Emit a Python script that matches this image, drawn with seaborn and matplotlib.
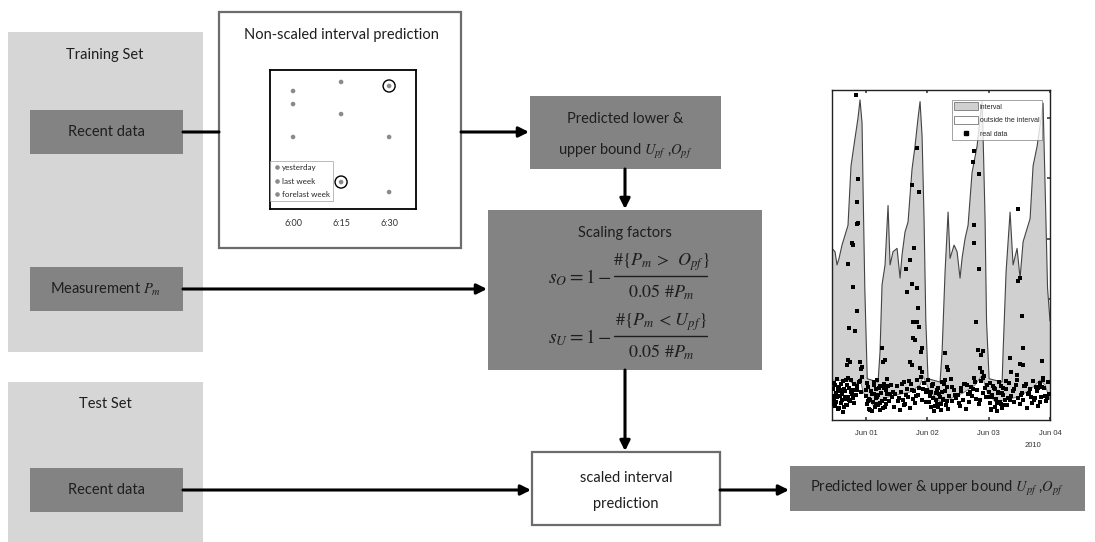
"""Interval prediction workflow diagram with inset charts."""

import matplotlib
matplotlib.use("Agg")
import matplotlib.pyplot as plt
from matplotlib.lines import Line2D
from matplotlib.patches import Patch, Rectangle
import numpy as np
import pandas as pd
import seaborn as sns

# ---- inset: non-scaled interval prediction -------------------------------
slot_labels = ["6:00", "6:15", "6:30"]
yesterday = [75.5, 68.3, 51.8]
last_week = [84.9, 91.4, 88.5]
forelast_week = [51.8, 19.4, 12.2]
circled = [("6:15", "forelast week"), ("6:30", "last week")]

# ---- right chart: interval vs real data (x in days from Jun 01) ----------
date_labels = ["Jun 01", "Jun 02", "Jun 03", "Jun 04"]
year_label = "2010"

upper_day = [-0.555, -0.506, -0.473, -0.44, -0.392, -0.343, -0.294, -0.245, -0.179,
             -0.131, -0.098, -0.065, -0.049, -0.02, 0.02, 0.196, 0.228, 0.261, 0.31,
             0.359, 0.392, 0.44, 0.506, 0.555, 0.587, 0.636, 0.685, 0.75, 0.799, 0.848,
             0.881, 0.914, 0.946, 0.975, 1.011, 1.207, 1.24, 1.289, 1.338, 1.37, 1.436,
             1.485, 1.533, 1.566, 1.615, 1.664, 1.729, 1.811, 1.86, 1.892, 1.909, 1.941,
             1.965, 2.007, 2.219, 2.235, 2.284, 2.349, 2.398, 2.463, 2.512, 2.561, 2.626,
             2.675, 2.724, 2.79, 2.855, 2.887, 2.92, 2.96, 3.0]
upper_val = [52, 51, 47, 49, 53, 56, 59, 77, 85.5, 91.5, 97, 90, 71, 40, 12.5, 11.5, 20.6,
             41, 47, 65, 47, 51, 52, 43, 50, 57, 60, 76, 83, 91.5, 96.5, 86, 61, 30, 12.5,
             11.5, 20.6, 45, 63, 49, 53, 51, 43, 49, 55, 59, 75, 83, 91.5, 96.5, 86, 61, 30,
             12.5, 11.5, 20.6, 45, 63, 47, 52, 43, 54, 58, 61, 77, 83, 91.5, 96, 71, 40, 30]

lower_day = [-0.555, -0.261, -0.179, -0.098, -0.049, 0.114, 0.228, 0.31, 0.506, 0.718,
             0.881, 0.93, 1.044, 1.207, 1.37, 1.582, 1.778, 1.892, 1.974, 2.104, 2.268,
             2.48, 2.675, 2.838, 2.92, 3.0]
lower_val = [12.1, 11.8, 10.3, 12.7, 8.5, 4.5, 4.5, 6.7, 7.6, 8.5, 10.6, 13.3, 8.5, 5.5,
             6.4, 8.2, 10.6, 13.6, 8.5, 5.5, 6.1, 7.0, 9.1, 12.1, 10.6, 6.1]

# scattered measurements inside / above the band
real_day_mid = [-0.163, -0.131, -0.147, -0.131, -0.15, -0.228, -0.212, -0.294, -0.212,
                -0.147, -0.277, -0.179, -0.294, -0.261, -0.31, -0.098, -0.065, -0.082,
                0.832, 0.75, 0.865, 0.783, 0.718, 0.653, 0.75, 0.832, 0.669, 0.848, 0.767,
                0.832, 0.865, 0.767, 0.799, 0.897, 0.914, 0.261, 0.277, 0.31, 0.718, 0.75,
                0.881, 0.914, 1.762, 1.746, 1.843, 1.762, 1.762, 1.843, 1.794, 1.827, 1.909,
                1.876, 1.289, 1.321, 1.338, 1.86, 1.892, 1.909, 2.48, 2.48, 2.512, 2.545,
                2.561, 2.512, 2.561, 2.349, 2.871, 2.365, 2.463, 2.887, 2.838]
real_val_mid = [98.5, 73.0, 66.1, 59.7, 59.4, 53.6, 53.0, 47.3, 40.3, 33.0, 27.9, 27.0,
                18.2, 17.6, 16.7, 17.6, 16.1, 15.5, 82.4, 71.2, 69.1, 52.1, 48.5, 45.8,
                41.2, 40.0, 38.8, 33.9, 29.7, 29.7, 28.2, 24.8, 24.2, 20.6, 21.8, 21.8,
                17.6, 18.2, 17.6, 16.7, 15.8, 14.5, 81.5, 78.2, 74.5, 59.1, 53.6, 45.8,
                29.7, 21.2, 20.9, 19.7, 20.3, 16.1, 15.2, 15.8, 14.5, 12.7, 63.9, 42.1,
                43.0, 31.5, 21.8, 17.0, 16.7, 18.8, 17.9, 14.5, 13.6, 12.1, 11.2]

# dense cloud of low night-time measurements
real_day_low = [-0.54, -0.53, -0.52, -0.50, -0.49, -0.48, -0.47, -0.45, -0.44, -0.43, -0.41,
                -0.40, -0.38, -0.37, -0.35, -0.34, -0.33, -0.31, -0.30, -0.28, -0.26, -0.25,
                -0.23, -0.21, -0.19, -0.17, -0.14, -0.12, -0.09, -0.06,
                0.00, 0.02, 0.04, 0.05, 0.07, 0.08, 0.10, 0.11, 0.13, 0.14, 0.16, 0.17, 0.19,
                0.20, 0.22, 0.23, 0.25, 0.27, 0.29, 0.31, 0.33, 0.35, 0.37, 0.39, 0.41, 0.43,
                0.46, 0.48, 0.50, 0.52, 0.55, 0.57, 0.60, 0.62, 0.64, 0.67, 0.69, 0.71, 0.73,
                0.76, 0.78, 0.80, 0.83, 0.85, 0.87, 0.90, 0.92, 0.95, 0.97,
                1.00, 1.02, 1.04, 1.06, 1.08, 1.10, 1.12, 1.14, 1.16, 1.18, 1.20, 1.22, 1.24,
                1.26, 1.28, 1.30, 1.32, 1.35, 1.38, 1.41, 1.44, 1.47,
                1.50, 1.53, 1.55, 1.58, 1.60, 1.63, 1.66, 1.68, 1.71, 1.73, 1.76, 1.79, 1.81,
                1.84, 1.87, 1.90, 1.93, 1.96, 1.98,
                2.00, 2.02, 2.04, 2.06, 2.08, 2.10, 2.12, 2.14, 2.16, 2.18, 2.20, 2.22, 2.24,
                2.26, 2.28, 2.30, 2.33, 2.36, 2.39, 2.42, 2.45, 2.48,
                2.51, 2.54, 2.56, 2.59, 2.62, 2.64, 2.67, 2.70, 2.72, 2.75, 2.78, 2.80, 2.83,
                2.86, 2.88, 2.91, 2.94, 2.96, 2.98,
                -0.515, -0.465, -0.395, -0.355, -0.325, -0.275, -0.215, 0.015, 0.045, 0.085,
                0.125, 0.155, 0.185, 0.215, 0.265, 0.305, 0.345, 0.585, 0.655, 0.745, 1.015,
                1.055, 1.095, 1.135, 1.175, 1.235, 1.275, 1.315, 1.545, 1.645, 1.745, 2.015,
                2.055, 2.095, 2.135, 2.175, 2.215, 2.255, 2.315, 2.605, 2.685, 2.765, 2.845,
                2.925,
                -0.545, -0.505, -0.485, -0.455, -0.435, -0.415, -0.385, -0.365, -0.345,
                -0.315, -0.295, -0.245, -0.195, -0.155, -0.105, 0.005, 0.035, 0.065, 0.095,
                0.135, 0.175, 0.235, 0.285, 0.325, 0.365, 0.445, 0.535, 0.625, 0.705, 0.815,
                0.935, 0.985, 1.035, 1.075, 1.115, 1.155, 1.195, 1.215, 1.255, 1.295, 1.335,
                1.395, 1.455, 1.515, 1.615, 1.695, 1.785, 1.855, 1.945, 1.995, 2.035, 2.075,
                2.115, 2.155, 2.195, 2.235, 2.275, 2.345, 2.405, 2.465, 2.525, 2.575, 2.655,
                2.735, 2.805, 2.875, 2.955]
real_val_low = [9.5, 6.0, 11.2, 4.1, 8.3, 12.5, 6.9, 3.2, 10.1, 7.4, 5.2, 9.0, 2.4, 11.8,
                6.3, 8.8, 4.5, 10.5, 7.1, 9.6, 5.8, 12.0, 8.0, 6.6, 10.9, 7.7, 9.2, 11.4,
                8.6, 13.0,
                7.2, 4.8, 9.9, 3.3, 6.1, 8.7, 2.6, 5.5, 7.9, 3.9, 6.8, 9.4, 4.4, 7.5, 5.1,
                10.3, 8.2, 3.6, 11.0, 6.4, 9.1, 12.3, 5.7, 8.0, 10.7, 6.9,
                4.0, 7.8, 10.2, 5.9, 3.1, 8.5, 6.2, 11.6, 4.7, 9.3, 7.0, 3.5, 10.8, 6.5, 8.9,
                5.3, 12.2, 7.6, 9.8, 13.1, 6.0, 11.3, 8.4,
                9.0, 5.6, 7.3, 3.8, 10.4, 6.7, 4.3, 8.1, 5.0, 9.7, 7.0, 3.0, 11.5, 6.3, 8.8,
                4.6, 10.0, 7.4, 12.4, 5.9, 9.2, 6.8,
                7.5, 4.2, 9.6, 6.1, 11.0, 3.4, 8.0, 5.5, 10.1, 7.2, 12.8, 6.4, 9.0, 4.8, 11.7,
                8.3, 13.4, 6.9, 10.5,
                8.6, 5.2, 3.4, 7.0, 9.8, 4.0, 6.3, 2.8, 8.1, 5.6, 10.3, 3.7, 7.7, 6.0, 9.3,
                4.5, 11.2, 7.3, 8.8, 5.4, 10.6, 6.6,
                4.9, 8.2, 6.0, 10.4, 3.6, 7.8, 9.5, 5.3, 11.9, 6.7, 8.9, 4.1, 10.8, 7.1, 12.6,
                9.7, 5.8, 11.4, 8.0,
                5.0, 10.0, 7.9, 4.0, 12.1, 6.0, 9.0, 11.3, 6.5, 8.9, 10.6, 4.9, 12.0, 9.6,
                5.9, 3.9, 7.9, 10.9, 7.6, 9.1, 12.0, 8.4, 11.0, 6.1, 3.9, 8.6, 10.8, 5.8,
                8.9, 10.5, 9.3, 11.3, 7.5, 9.4, 5.1, 11.4, 8.3, 4.5, 6.8, 11.0, 6.9, 10.0,
                5.6, 7.4,
                7.3, 10.6, 5.4, 8.9, 3.7, 11.0, 6.1, 9.3, 7.0, 4.6, 12.8, 8.4, 5.2, 10.2,
                11.8, 9.2, 5.9, 3.0, 8.0, 11.4, 7.0, 3.1, 9.8, 5.0, 10.4, 8.6, 6.7, 4.4,
                11.9, 7.3, 9.5, 5.5, 7.8, 10.6, 2.6, 9.0, 7.9, 4.8, 6.0, 12.1, 3.4, 9.9,
                7.6, 5.2, 10.9, 8.6, 11.5, 6.2, 9.7, 7.0, 3.0, 10.2, 6.5, 8.4, 4.9, 9.6,
                11.8, 6.0, 9.4, 12.2, 7.6, 10.2, 8.1, 6.2, 9.6, 10.1, 6.6]

# ---- colours ---------------------------------------------------------------
PANEL = "#d6d6d6"
DARK = "#838383"
INK = "#1e1e1e"
BAND = "#d0d0d0"
SERIF = ["STIXGeneral", "DejaVu Serif"]
SANS_SMALL = ["Liberation Sans", "DejaVu Sans"]

sns.set_theme(style="white")
plt.rcParams["font.family"] = ["Lato", "DejaVu Sans"]
plt.rcParams["mathtext.fontset"] = "stix"

W, H = 1095, 542
fig = plt.figure(figsize=(W / 100, H / 100), dpi=100)
fig.patch.set_facecolor("white")

# diagram canvas in pixel units (y downwards)
dax = fig.add_axes([0, 0, 1, 1])
dax.set_xlim(0, W)
dax.set_ylim(H, 0)
dax.axis("off")


def box(x0, y0, x1, y1, fc, ec=None, lw=0.0):
    dax.add_patch(Rectangle((x0, y0), x1 - x0, y1 - y0, facecolor=fc,
                            edgecolor=ec if ec else fc, linewidth=lw))


def label(x, y, s, size=10.5, ha="center", **kw):
    dax.text(x, y, s, ha=ha, va="center", fontsize=size, color=INK, **kw)


def arrow(p0, p1, head=True):
    style = "-|>" if head else "-"
    dax.annotate("", xy=p1, xytext=p0,
                 arrowprops=dict(arrowstyle=style, color="black", lw=2.2,
                                 mutation_scale=15, shrinkA=0, shrinkB=0))


def fraction_eq(lhs, num, den, y_bar):
    # "lhs  num / den" drawn as a stacked fraction
    label(612, y_bar + 2, lhs, 14, ha="right")
    dax.plot([614, 707], [y_bar, y_bar], color=INK, lw=1.0)
    label(661, y_bar - 14, num, 13, family=SERIF)
    label(661, y_bar + 16, den, 13, family=SERIF)


# left panels
box(8, 32, 203, 352, PANEL)
box(8, 382, 203, 542, PANEL)
label(105, 55, "Training Set", 10.5)
label(105, 404, "Test Set", 10.5)
box(30, 110, 183, 154, DARK)
label(106, 132, "Recent data", 10.5)
box(30, 267, 183, 311, DARK)
label(106, 289, "Measurement $P_m$", 10.5)
box(30, 468, 183, 512, DARK)
label(106, 490, "Recent data", 10.5)

# central boxes
box(219, 12, 461, 248, "white", "#6c6c6c", 1.6)
label(341, 35, "Non-scaled interval prediction", 10.5)
box(530, 96, 721, 169, DARK)
label(625, 119, "Predicted lower &", 10.5)
label(625, 152, "upper bound $U_{pf}$ ,$O_{pf}$", 10.5)
box(488, 210, 762, 370, DARK)
label(625, 233, "Scaling factors", 10.5)
fraction_eq(r"$s_O = 1 -$", "#{$P_m$ >  $O_{pf}$}", "0.05 #$P_m$", 276)
fraction_eq(r"$s_U = 1 -$", "#{$P_m$ < $U_{pf}$}", "0.05 #$P_m$", 336)
box(532, 452, 720, 525, "white", "#6c6c6c", 1.6)
label(626, 478, "scaled interval", 10.5)
label(626, 504, "prediction", 10.5)
box(790, 466, 1085, 511, DARK)
label(937, 489, "Predicted lower & upper bound $U_{pf}$ ,$O_{pf}$", 10.5)

# connectors
arrow((183, 132), (219, 132), head=False)
arrow((461, 132), (529, 132))
arrow((625, 169), (625, 209))
arrow((183, 289), (487, 289))
arrow((625, 370), (625, 451))
arrow((183, 490), (531, 490))
arrow((720, 490), (789, 490))

# ---- inset scatter -------------------------------------------------------
iax = fig.add_axes([270 / W, 1 - 209 / H, 146 / W, 139 / H])
series = {"yesterday": yesterday, "last week": last_week, "forelast week": forelast_week}
inset_df = pd.DataFrame(
    [(i, v, name) for name, vals in series.items() for i, v in enumerate(vals)],
    columns=["slot", "value", "series"],
)
sns.scatterplot(data=inset_df, x="slot", y="value", hue="series", ax=iax,
                palette=["#8a8a8a"] * 3, s=11, linewidth=0, legend=True)
for slot, name in circled:
    idx = slot_labels.index(slot)
    sns.scatterplot(x=[idx], y=[series[name][idx]], ax=iax, s=75, marker="o",
                    facecolor="none", edgecolor="black", linewidth=1.0, legend=False)
iax.set_xlim(-0.48, 2.56)
iax.set_ylim(0, 100)
iax.set_xticks(range(len(slot_labels)))
iax.set_xticklabels(slot_labels, fontsize=6.5, color="#333333")
iax.set_yticks([])
iax.tick_params(axis="x", length=0, pad=7)
iax.set_xlabel("")
iax.set_ylabel("")
for sp in iax.spines.values():
    sp.set_color("black")
    sp.set_linewidth(1.3)
leg = iax.legend(loc="lower left", bbox_to_anchor=(0.0, 0.055), fontsize=5.8,
                 frameon=True, fancybox=False, borderpad=0.4, labelspacing=0.8,
                 handletextpad=0.1, handlelength=1.0, borderaxespad=0)
leg.get_frame().set_edgecolor("#9a9a9a")
leg.get_frame().set_linewidth(0.6)

# ---- right chart ---------------------------------------------------------
rax = fig.add_axes([832 / W, 1 - 420 / H, 218 / W, 330 / H])
band_x = np.r_[upper_day, lower_day[::-1]]
band_y = np.r_[upper_val, lower_val[::-1]]
rax.fill(band_x, band_y, color=BAND, lw=0, zorder=1)
sns.lineplot(x=upper_day, y=upper_val, sort=False, ax=rax, color="#444444", lw=0.8,
             zorder=2)
sns.lineplot(x=lower_day, y=lower_val, sort=False, ax=rax, color="#777777", lw=0.7,
             zorder=2)
sns.scatterplot(x=real_day_low + real_day_mid, y=real_val_low + real_val_mid, ax=rax,
                marker="s", s=8, color="black", linewidth=0, zorder=3)
rax.set_xlim(-0.555, 3.0)
rax.set_ylim(0, 100)
rax.set_xticks(range(len(date_labels)))
rax.set_xticklabels(date_labels, fontsize=5.5, color="#333333", family=SANS_SMALL)
rax.set_yticks([18.3, 36.6, 54.9, 73.2, 91.5])
rax.set_yticklabels([])
rax.tick_params(axis="x", direction="in", length=2.5, top=True, bottom=True, pad=7,
                color="#444444")
rax.tick_params(axis="y", direction="in", length=2.5, left=False, right=True,
                color="#444444")
rax.text(0.922, -0.078, year_label, transform=rax.transAxes, ha="center", va="center",
         fontsize=5.5, color="#333333", family=SANS_SMALL)
for sp in rax.spines.values():
    sp.set_color("#222222")
    sp.set_linewidth(1.0)
handles = [
    Patch(facecolor=BAND, edgecolor="#777777", linewidth=0.6, label="interval"),
    Patch(facecolor="white", edgecolor="#777777", linewidth=0.6,
          label="outside the interval"),
    Line2D([], [], marker="s", markersize=2.2, color="black", lw=0, label="real data"),
]
rleg = rax.legend(handles=handles, loc="upper right", bbox_to_anchor=(0.963, 0.97),
                  frameon=True, fancybox=False, borderpad=0.35,
                  labelspacing=0.75, handlelength=3.4, handleheight=1.4,
                  handletextpad=0.3, borderaxespad=0,
                  prop={"family": SANS_SMALL, "size": 5})
rleg.get_frame().set_edgecolor("#777777")
rleg.get_frame().set_linewidth(0.6)

fig.savefig("out.png", dpi=100)
plt.close(fig)
